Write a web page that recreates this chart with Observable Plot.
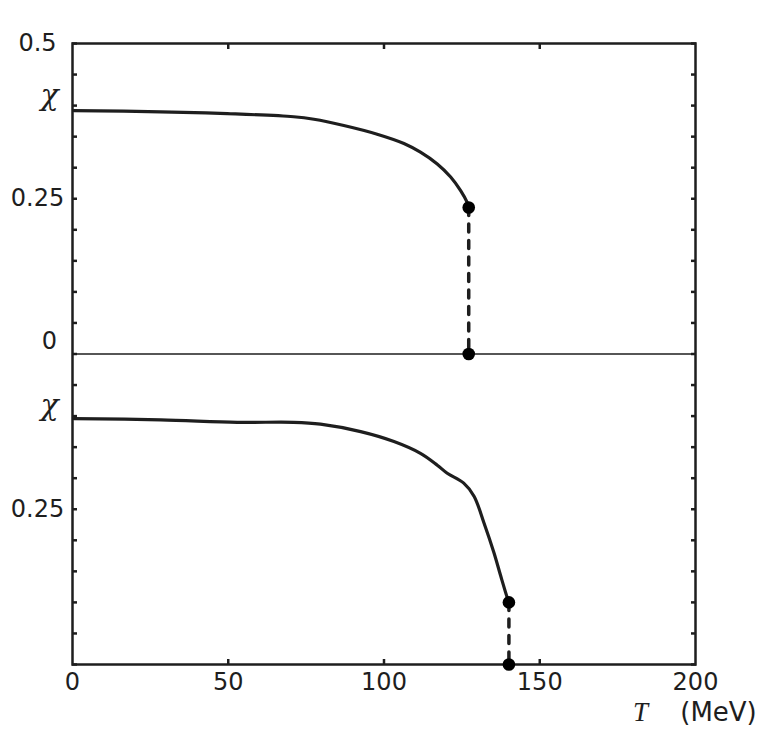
<!DOCTYPE html>
<html><head><meta charset="utf-8">
<script src="https://cdn.jsdelivr.net/npm/d3@7"></script>
<script src="https://cdn.jsdelivr.net/npm/@observablehq/plot@0.6"></script>
<style>body{margin:0;background:#fff}</style>
</head><body><div id="chart"></div>
<script>
// Upper panel curve (T in MeV, chi)
const topT   = [0.4, 28.3, 49.7, 71.0, 77.5, 87.1, 97.8, 106.4, 111.7, 117.1, 121.4, 124.6, 126.7, 127.2];
const topChi = [0.392, 0.390, 0.387, 0.382, 0.378, 0.368, 0.354, 0.339, 0.325, 0.306, 0.285, 0.263, 0.244, 0.236];
// Lower panel curve
const botT   = [0.4, 28.3, 52.9, 71.0, 79.6, 92.5, 103.2, 111.7, 117.1, 120.3, 125.6, 128.9, 132.1, 135.3, 137.5, 139.6, 140.1];
const botChi = [0.396, 0.394, 0.390, 0.390, 0.387, 0.375, 0.359, 0.340, 0.321, 0.308, 0.292, 0.271, 0.228, 0.180, 0.142, 0.107, 0.100];
// Jump points
const topJumpT = 127.2, topJumpChi = [0.236, 0];
const botJumpT = 140.1, botJumpChi = [0.100, 0];
// Ticks & labels
const xTicks = [0, 50, 100, 150, 200];
const xMinorTicks = [50, 100, 150];
const yTickStep = 0.05;
const panelOffset = 0.5; // upper panel drawn above the lower one
const yLabels = [
  {panel: "top", v: 0.5, text: "0.5"},
  {panel: "top", v: 0.25, text: "0.25"},
  {panel: "bot", v: 0.25, text: "0.25"}
];
const zeroLabel = {panel: "top", v: 0, text: "0"};
const chiLabels = [{panel: "top", v: 0.41}, {panel: "bot", v: 0.41}];

const off = p => p === "top" ? panelOffset : 0;
const topData = topT.map((t, i) => ({T: t, y: topChi[i] + panelOffset}));
const botData = botT.map((t, i) => ({T: t, y: botChi[i]}));
const topJump = topJumpChi.map(c => ({T: topJumpT, y: c + panelOffset}));
const botJump = botJumpChi.map(c => ({T: botJumpT, y: c}));
const yTicks = d3.range(0, 1 + 1e-9, yTickStep);

const ink = "#1e1e1e";
const sans = "DejaVu Sans";
const fs = 24;

const chart = Plot.plot({
  width: 763,
  height: 740,
  marginLeft: 72,
  marginRight: 68,
  marginTop: 43,
  marginBottom: 76,
  x: {domain: [0, 200]},
  y: {domain: [0, 1]},
  style: {background: "#fff"},
  marks: [
    Plot.ruleY([panelOffset], {stroke: ink, strokeWidth: 1.3}),
    Plot.axisY({anchor: "left", ticks: yTicks, tickSize: 5, dx: 5, tickFormat: () => "", label: null, stroke: ink, strokeWidth: 2.5}),
    Plot.axisY({anchor: "right", ticks: yTicks, tickSize: 5, dx: -5, tickFormat: () => "", label: null, stroke: ink, strokeWidth: 2.5}),
    Plot.axisX({anchor: "bottom", ticks: xMinorTicks, tickSize: 5, dy: -5, tickFormat: () => "", label: null, stroke: ink, strokeWidth: 2.5}),
    Plot.axisX({anchor: "top", ticks: xMinorTicks, tickSize: 5, dy: 5, tickFormat: () => "", label: null, stroke: ink, strokeWidth: 2.5}),
    Plot.axisX({anchor: "bottom", ticks: xTicks, tickSize: 0, tickPadding: 8, label: null, fontSize: fs, fontFamily: sans, fill: ink}),
    Plot.frame({stroke: ink, strokeWidth: 2.5}),
    Plot.line(topData, {x: "T", y: "y", curve: "catmull-rom", stroke: ink, strokeWidth: 3.2}),
    Plot.line(botData, {x: "T", y: "y", curve: "catmull-rom", stroke: ink, strokeWidth: 3.2}),
    Plot.line(topJump, {x: "T", y: "y", stroke: ink, strokeWidth: 3.5, strokeDasharray: "8,8.5"}),
    Plot.line(botJump, {x: "T", y: "y", stroke: ink, strokeWidth: 3.5, strokeDasharray: "8,8.5"}),
    Plot.dot([...topJump, ...botJump], {x: "T", y: "y", r: 6.3, fill: "#000", stroke: null}),
    Plot.text(yLabels, {x: () => 0, y: d => d.v + off(d.panel), text: "text", dx: -35, textAnchor: "middle", fontSize: fs, fontFamily: sans, fill: ink}),
    Plot.text([zeroLabel], {x: () => 0, y: d => d.v + off(d.panel), text: "text", dx: -23, dy: -13, textAnchor: "middle", fontSize: fs, fontFamily: sans, fill: ink}),
    Plot.text(chiLabels, {x: () => 0, y: d => d.v + off(d.panel), text: () => "χ", dx: -23, dy: -4, textAnchor: "middle", fontSize: 30, fontFamily: "DejaVu Serif", fontStyle: "italic", fill: ink}),
    Plot.text(["T"], {frameAnchor: "bottom-right", dx: -55, dy: 56, textAnchor: "middle", fontSize: 27, fontFamily: "Liberation Serif", fontStyle: "italic", fill: ink}),
    Plot.text(["(MeV)"], {frameAnchor: "bottom-right", dx: 23, dy: 56, textAnchor: "middle", fontSize: 26, fontFamily: sans, fill: ink})
  ]
});
document.getElementById("chart").appendChild(chart);
</script>
</body></html>
